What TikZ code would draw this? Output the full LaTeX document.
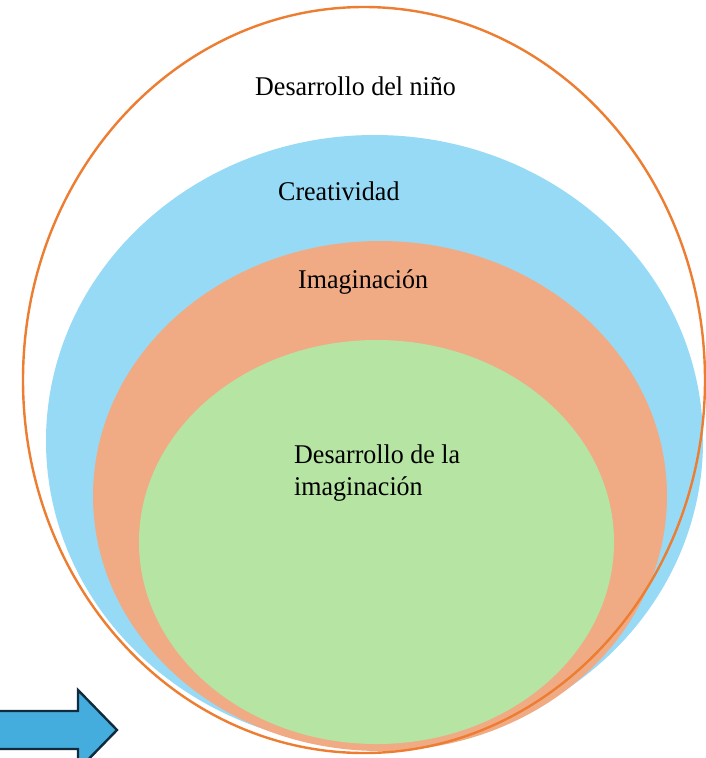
\documentclass[tikz,border=0pt]{standalone}
\usepackage{fontspec}
\setmainfont{Liberation Serif}
\usetikzlibrary{shapes.geometric}
\definecolor{ringorange}{RGB}{237,125,49}
\definecolor{ringblue}{RGB}{151,218,246}
\definecolor{ringsalmon}{RGB}{240,171,133}
\definecolor{ringgreen}{RGB}{181,228,163}
\definecolor{arrowfill}{RGB}{69,173,221}
\definecolor{arrowline}{RGB}{16,42,62}
\begin{document}
\begin{tikzpicture}[x=1pt,y=-1pt,
  ring/.style={ellipse,inner sep=0pt,outer sep=0pt},
  lbl/.style={anchor=base west,inner sep=0pt,font=\fontsize{26}{32}\selectfont,yscale=1.04}]
\useasboundingbox (0,0) rectangle (706,758);
\fill[white] (0,0) rectangle (706,758);
\node[ring,fill=ringblue,minimum width=657pt,minimum height=612pt] (blue) at (374.5,441) {};
\node[ring,fill=ringsalmon,minimum width=574pt,minimum height=510pt] (salmon) at (380,496) {};
\node[ring,fill=ringgreen,minimum width=475pt,minimum height=404pt] (green) at (376.5,542) {};
\node[ring,draw=ringorange,line width=2.4pt,minimum width=682pt,minimum height=746pt] (outer) at (364,380) {};
\node[lbl] (t1) at (255,95) {Desarrollo del niño};
\node[lbl] (t2) at (278,200) {Creatividad};
\node[lbl] (t3) at (298,288) {Imaginación};
\node[lbl] (t4) at (294,463) {Desarrollo de la};
\begin{scope}
\clip (280,470) rectangle (480,500);
\node[lbl] (t5) at (294,495) {imaginación};
\end{scope}
\draw[arrowline,fill=arrowfill,line width=2.4pt,line join=miter]
  (-10,711) -- (78,711) -- (78,690) -- (117,730) -- (78,770) -- (78,749) -- (-10,749) -- cycle;
\end{tikzpicture}
\end{document}
